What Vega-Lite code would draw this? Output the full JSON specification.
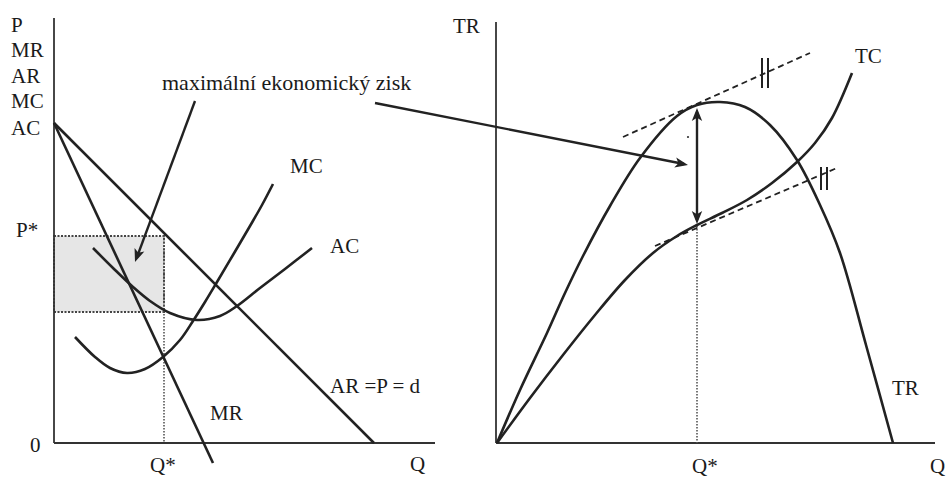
{
  "$schema": "https://vega.github.io/schema/vega-lite/v6.json",
  "width": 947,
  "height": 477,
  "autosize": {"type": "none"},
  "padding": 0,
  "background": "white",
  "config": {"view": {"stroke": null}},
  "datasets": {
    "straight": [
      {"curve": "AR", "x": 54, "y": 320}, {"curve": "AR", "x": 374, "y": 0},
      {"curve": "MR", "x": 54, "y": 320}, {"curve": "MR", "x": 213, "y": -20}
    ],
    "curves": [
      {"curve": "MC", "x": 75, "y": 106}, {"curve": "MC", "x": 95, "y": 86}, {"curve": "MC", "x": 110, "y": 75},
      {"curve": "MC", "x": 127, "y": 70}, {"curve": "MC", "x": 145, "y": 74}, {"curve": "MC", "x": 163, "y": 86},
      {"curve": "MC", "x": 180, "y": 103}, {"curve": "MC", "x": 193, "y": 122}, {"curve": "MC", "x": 205, "y": 141},
      {"curve": "MC", "x": 217, "y": 161}, {"curve": "MC", "x": 233, "y": 188}, {"curve": "MC", "x": 250, "y": 217},
      {"curve": "MC", "x": 262, "y": 238}, {"curve": "MC", "x": 273, "y": 259},
      {"curve": "AC", "x": 93, "y": 195}, {"curve": "AC", "x": 113, "y": 175}, {"curve": "AC", "x": 133, "y": 156},
      {"curve": "AC", "x": 150, "y": 142}, {"curve": "AC", "x": 170, "y": 130}, {"curve": "AC", "x": 197, "y": 123},
      {"curve": "AC", "x": 220, "y": 127}, {"curve": "AC", "x": 237, "y": 137}, {"curve": "AC", "x": 260, "y": 155},
      {"curve": "AC", "x": 285, "y": 174}, {"curve": "AC", "x": 312, "y": 195},
      {"curve": "TR", "x": 497, "y": 0}, {"curve": "TR", "x": 520, "y": 53}, {"curve": "TR", "x": 547, "y": 110},
      {"curve": "TR", "x": 565, "y": 150}, {"curve": "TR", "x": 583, "y": 187}, {"curve": "TR", "x": 610, "y": 237},
      {"curve": "TR", "x": 640, "y": 285}, {"curve": "TR", "x": 677, "y": 327}, {"curve": "TR", "x": 697, "y": 338},
      {"curve": "TR", "x": 720, "y": 341}, {"curve": "TR", "x": 745, "y": 336}, {"curve": "TR", "x": 770, "y": 318},
      {"curve": "TR", "x": 797, "y": 283}, {"curve": "TR", "x": 820, "y": 238}, {"curve": "TR", "x": 840, "y": 190},
      {"curve": "TR", "x": 866, "y": 98}, {"curve": "TR", "x": 893, "y": 0},
      {"curve": "TC", "x": 497, "y": 0}, {"curve": "TC", "x": 530, "y": 45}, {"curve": "TC", "x": 563, "y": 88},
      {"curve": "TC", "x": 595, "y": 128}, {"curve": "TC", "x": 625, "y": 163}, {"curve": "TC", "x": 653, "y": 190},
      {"curve": "TC", "x": 677, "y": 207}, {"curve": "TC", "x": 697, "y": 218}, {"curve": "TC", "x": 722, "y": 230},
      {"curve": "TC", "x": 747, "y": 243}, {"curve": "TC", "x": 772, "y": 260}, {"curve": "TC", "x": 797, "y": 281},
      {"curve": "TC", "x": 815, "y": 300}, {"curve": "TC", "x": 832, "y": 325}, {"curve": "TC", "x": 852, "y": 370}
    ],
    "axes": [
      {"x": 54, "y": 425, "x2": 54, "y2": 0},
      {"x": 54, "y": 0, "x2": 435, "y2": 0},
      {"x": 496, "y": 421, "x2": 496, "y2": 0},
      {"x": 496, "y": 0, "x2": 935, "y2": 0}
    ],
    "dotted": [
      {"x": 164, "y": 207, "x2": 164, "y2": 0},
      {"x": 697, "y": 217, "x2": 697, "y2": 0}
    ],
    "dashed": [
      {"x": 623, "y": 306, "x2": 810, "y2": 390},
      {"x": 655, "y": 197, "x2": 837, "y2": 275}
    ],
    "ticks": [
      {"x": 762, "y": 385, "x2": 762, "y2": 355},
      {"x": 768, "y": 385, "x2": 768, "y2": 355},
      {"x": 821, "y": 276, "x2": 821, "y2": 253},
      {"x": 827, "y": 276, "x2": 827, "y2": 253}
    ],
    "arrows": [
      {"x": 195, "y": 342, "x2": 137, "y2": 186},
      {"x": 375, "y": 340, "x2": 684, "y2": 279},
      {"x": 697, "y": 331, "x2": 697, "y2": 223}
    ],
    "heads": [
      {"head": "a1", "x": 135, "y": 181},
      {"head": "a2", "x": 688, "y": 278},
      {"head": "up", "x": 697, "y": 335},
      {"head": "down", "x": 697, "y": 219}
    ],
    "area": [
      {"x": 54, "x2": 164, "y": 207, "y2": 131}
    ],
    "dot": [
      {"x": 688, "y": 306}
    ],
    "labels": [
      {"text": "P", "x": 11, "y": 411},
      {"text": "MR", "x": 11, "y": 386},
      {"text": "AR", "x": 11, "y": 360},
      {"text": "MC", "x": 11, "y": 335},
      {"text": "AC", "x": 11, "y": 308},
      {"text": "P*", "x": 16, "y": 206},
      {"text": "0", "x": 30, "y": -9},
      {"text": "Q*", "x": 150, "y": -29},
      {"text": "Q", "x": 410, "y": -28},
      {"text": "MR", "x": 210, "y": 23},
      {"text": "AR =P = d", "x": 330, "y": 50},
      {"text": "AC", "x": 330, "y": 190},
      {"text": "MC", "x": 290, "y": 270},
      {"text": "TR", "x": 453, "y": 410},
      {"text": "TC", "x": 855, "y": 380},
      {"text": "TR", "x": 892, "y": 48},
      {"text": "Q*", "x": 692, "y": -30},
      {"text": "Q", "x": 930, "y": -30}
    ],
    "title": [
      {"text": "maximální ekonomický zisk", "x": 162, "y": 353}
    ]
  },
  "encoding": {
    "x": {"field": "x", "type": "quantitative", "scale": {"domain": [0, 947], "nice": false, "zero": false}, "axis": null},
    "y": {"field": "y", "type": "quantitative", "scale": {"domain": [-34, 443], "nice": false, "zero": false}, "axis": null}
  },
  "layer": [
    {
      "data": {"name": "area"},
      "mark": {"type": "rect", "fill": "#e6e6e6", "stroke": "#444", "strokeWidth": 2, "strokeDash": [2, 1.5]},
      "encoding": {"x2": {"field": "x2"}, "y2": {"field": "y2"}}
    },
    {
      "data": {"name": "axes"},
      "mark": {"type": "rule", "color": "#333", "strokeWidth": 1.8},
      "encoding": {"x2": {"field": "x2"}, "y2": {"field": "y2"}}
    },
    {
      "data": {"name": "dotted"},
      "mark": {"type": "rule", "color": "#555", "strokeWidth": 1.6, "strokeDash": [1.5, 1.5]},
      "encoding": {"x2": {"field": "x2"}, "y2": {"field": "y2"}}
    },
    {
      "data": {"name": "dashed"},
      "mark": {"type": "rule", "color": "#222", "strokeWidth": 1.8, "strokeDash": [6, 4]},
      "encoding": {"x2": {"field": "x2"}, "y2": {"field": "y2"}}
    },
    {
      "data": {"name": "ticks"},
      "mark": {"type": "rule", "color": "#222", "strokeWidth": 2},
      "encoding": {"x2": {"field": "x2"}, "y2": {"field": "y2"}}
    },
    {
      "data": {"name": "straight"},
      "mark": {"type": "line", "color": "#222", "strokeWidth": 2.6},
      "encoding": {"detail": {"field": "curve"}}
    },
    {
      "data": {"name": "curves"},
      "mark": {"type": "line", "color": "#222", "strokeWidth": 2.6, "interpolate": "catmull-rom"},
      "encoding": {"detail": {"field": "curve"}}
    },
    {
      "data": {"name": "arrows"},
      "mark": {"type": "rule", "color": "#222", "strokeWidth": 2.4},
      "encoding": {"x2": {"field": "x2"}, "y2": {"field": "y2"}}
    },
    {
      "data": {"name": "heads"},
      "transform": [{"filter": "datum.head === 'a1'"}],
      "mark": {"type": "point", "shape": "M0,0 L0.8,2 L0,1.5 L-0.8,2 Z", "filled": true, "color": "#222", "opacity": 1, "size": 169, "angle": 200}
    },
    {
      "data": {"name": "heads"},
      "transform": [{"filter": "datum.head === 'a2'"}],
      "mark": {"type": "point", "shape": "M0,0 L0.8,2 L0,1.5 L-0.8,2 Z", "filled": true, "color": "#222", "opacity": 1, "size": 169, "angle": 101}
    },
    {
      "data": {"name": "heads"},
      "transform": [{"filter": "datum.head === 'up'"}],
      "mark": {"type": "point", "shape": "M0,0 L0.8,2 L0,1.5 L-0.8,2 Z", "filled": true, "color": "#222", "opacity": 1, "size": 169, "angle": 0}
    },
    {
      "data": {"name": "heads"},
      "transform": [{"filter": "datum.head === 'down'"}],
      "mark": {"type": "point", "shape": "M0,0 L0.8,2 L0,1.5 L-0.8,2 Z", "filled": true, "color": "#222", "opacity": 1, "size": 169, "angle": 180}
    },
    {
      "data": {"name": "dot"},
      "mark": {"type": "point", "filled": true, "color": "#333", "opacity": 1, "size": 5}
    },
    {
      "data": {"name": "labels"},
      "mark": {"type": "text", "font": "Liberation Serif", "fontSize": 21, "color": "#1a1a1a", "align": "left", "baseline": "alphabetic"},
      "encoding": {"text": {"field": "text"}}
    },
    {
      "data": {"name": "title"},
      "mark": {"type": "text", "font": "Liberation Serif", "fontSize": 22, "color": "#1a1a1a", "align": "left", "baseline": "alphabetic"},
      "encoding": {"text": {"field": "text"}}
    }
  ]
}
